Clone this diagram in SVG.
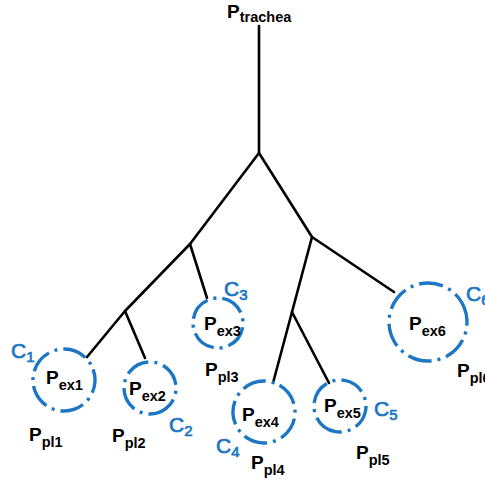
<svg xmlns="http://www.w3.org/2000/svg" width="485" height="481" viewBox="0 0 485 481">
<style>
.br{stroke:#000;stroke-width:2.6;fill:none;stroke-linecap:round}
.c{fill:none;stroke:#1c76c4;stroke-width:3.4;stroke-dasharray:24 6 3 6}
.p{font-family:"Liberation Sans",Arial,sans-serif;font-weight:bold;fill:#000;font-size:19px}
.s{font-size:14.5px}
.cl{font-family:"Liberation Sans",Arial,sans-serif;fill:#1c76c4;stroke:#1c76c4;stroke-width:0.7;font-size:21px}
.cs{font-size:15px}
</style>
<rect width="485" height="481" fill="#fff"/>
<g id="connectors">
<path class="br" d="M259,26 V153"/>
<path class="br" d="M259,153 L190,244 M259,153 L312,237"/>
<path class="br" d="M190,244 L125,311 M190,244 L207,298"/>
<path class="br" d="M125,311 L87,357 M125,311 L145,358"/>
<path class="br" d="M312,237 L394,292 M312,237 L292,312"/>
<path class="br" d="M292,312 L273,383 M292,312 L329,383"/>
</g>
<g id="trachea"><text class="p" x="227" y="18">P<tspan class="s" dy="4">trachea</tspan></text></g>
<g id="n1">
<circle class="c" cx="64" cy="380" r="31" transform="rotate(-20 64 380)"/>
<text class="p" x="46" y="384">P<tspan class="s" dy="6">ex1</tspan></text>
<text class="cl" x="11" y="358">C<tspan class="cs" dy="4">1</tspan></text>
<text class="p" x="29" y="441">P<tspan class="s" dy="6">pl1</tspan></text>
</g>
<g id="n2">
<circle class="c" cx="150" cy="388" r="26" transform="rotate(40 150 388)"/>
<text class="p" x="129" y="395">P<tspan class="s" dy="6">ex2</tspan></text>
<text class="cl" x="169" y="432">C<tspan class="cs" dy="4">2</tspan></text>
<text class="p" x="112" y="442">P<tspan class="s" dy="6">pl2</tspan></text>
</g>
<g id="n3">
<circle class="c" cx="218" cy="323" r="25" transform="rotate(10 218 323)"/>
<text class="p" x="204" y="330">P<tspan class="s" dy="6">ex3</tspan></text>
<text class="cl" x="224" y="296">C<tspan class="cs" dy="4">3</tspan></text>
<text class="p" x="205" y="376">P<tspan class="s" dy="6">pl3</tspan></text>
</g>
<g id="n4">
<circle class="c" cx="264" cy="412" r="31" transform="rotate(-60 264 412)"/>
<text class="p" x="242" y="421">P<tspan class="s" dy="6">ex4</tspan></text>
<text class="cl" x="216" y="453">C<tspan class="cs" dy="4">4</tspan></text>
<text class="p" x="251" y="469">P<tspan class="s" dy="6">pl4</tspan></text>
</g>
<g id="n5">
<circle class="c" cx="340" cy="406" r="26" transform="rotate(100 340 406)"/>
<text class="p" x="324" y="412">P<tspan class="s" dy="6">ex5</tspan></text>
<text class="cl" x="374" y="416">C<tspan class="cs" dy="4">5</tspan></text>
<text class="p" x="356" y="459">P<tspan class="s" dy="6">pl5</tspan></text>
</g>
<g id="n6">
<circle class="c" cx="428" cy="322" r="39" transform="rotate(-30 428 322)"/>
<text class="p" x="409" y="330">P<tspan class="s" dy="6">ex6</tspan></text>
<text class="cl" x="466" y="301">C<tspan class="cs" dy="4">6</tspan></text>
<text class="p" x="457" y="377">P<tspan class="s" dy="6">pl6</tspan></text>
</g>
</svg>
